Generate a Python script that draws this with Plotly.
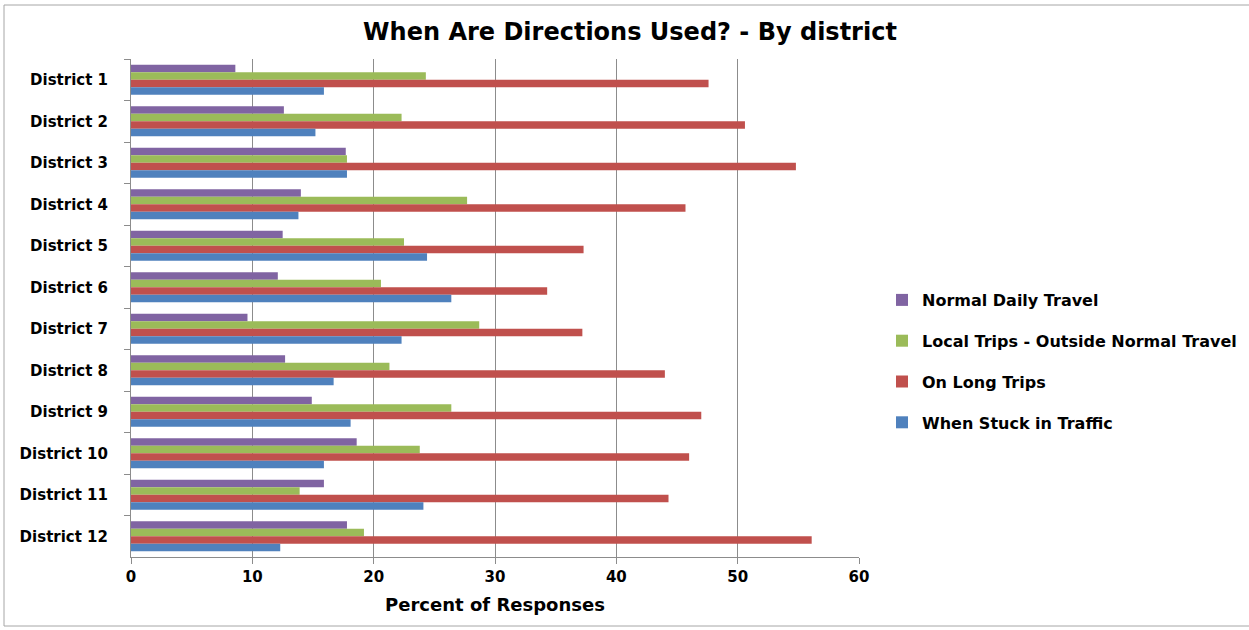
import plotly.graph_objects as go

districts = [f"District {i}" for i in range(1, 13)]

normal_daily = [8.6, 12.6, 17.7, 14.0, 12.5, 12.1, 9.6, 12.7, 14.9, 18.6, 15.9, 17.8]
local_trips = [24.3, 22.3, 17.8, 27.7, 22.5, 20.6, 28.7, 21.3, 26.4, 23.8, 13.9, 19.2]
long_trips = [47.6, 50.6, 54.8, 45.7, 37.3, 34.3, 37.2, 44.0, 47.0, 46.0, 44.3, 56.1]
stuck_traffic = [15.9, 15.2, 17.8, 13.8, 24.4, 26.4, 22.3, 16.7, 18.1, 15.9, 24.1, 12.3]

series = [
    ("Normal Daily Travel", normal_daily, "#8064A2"),
    ("Local Trips - Outside Normal Travel", local_trips, "#9BBB59"),
    ("On Long Trips", long_trips, "#C0504D"),
    ("When Stuck in Traffic", stuck_traffic, "#4F81BD"),
]

FONT = "DejaVu Sans"
W, H = 1249, 630
L, R, T, B = 131, 390, 59, 73
pw, ph = W - L - R, H - T - B

fig = go.Figure()
for i, (name, vals, color) in enumerate(series):
    fig.add_trace(go.Bar(
        y=districts, x=vals, name=name, orientation="h",
        marker=dict(color=color, line=dict(width=0)),
        legendgroup=f"g{i}",
    ))

def px_x(p):
    return (p - L) / pw

def px_y(p):
    return (H - B - p) / ph

fig.update_layout(
    width=W, height=H,
    margin=dict(l=L, r=R, t=T, b=B, autoexpand=False),
    paper_bgcolor="white", plot_bgcolor="white",
    barmode="group", bargap=0.277, bargroupgap=0,
    font=dict(family=FONT, color="#000000"),
    title=dict(
        text="When Are Directions Used? - By district",
        x=px_x(630), xanchor="center", xref="paper", y=1 - 32 / H, yanchor="middle",
        font=dict(family=FONT, size=24, weight="bold", color="#000000"),
    ),
    legend=dict(
        x=px_x(882), xanchor="left", y=px_y(283), yanchor="top",
        traceorder="grouped", tracegroupgap=17,
        font=dict(family=FONT, size=16, weight="bold", color="#000000"),
        bgcolor="rgba(0,0,0,0)",
    ),
    xaxis=dict(
        range=[0, 60], dtick=10, tick0=0,
        showgrid=True, gridcolor="#8c8c8c", gridwidth=1,
        showline=True, linecolor="#8c8c8c", linewidth=1,
        ticks="outside", ticklen=6, tickcolor="#8c8c8c",
        tickfont=dict(family=FONT, size=15, weight="bold", color="#000000"),
        title=dict(text="Percent of Responses", standoff=13,
                   font=dict(family=FONT, size=18, weight="bold", color="#000000")),
        zeroline=False, fixedrange=True,
    ),
    yaxis=dict(
        autorange="reversed", type="category",
        showline=True, linecolor="#8c8c8c", linewidth=1,
        ticks="outside", ticklen=6, tickcolor="#8c8c8c", tickson="boundaries",
        tickfont=dict(family=FONT, size=15, weight="bold", color="#000000"),
        ticklabelstandoff=19,
        showgrid=False, fixedrange=True,
    ),
    shapes=[dict(
        type="rect", xref="paper", yref="paper",
        x0=px_x(4), x1=px_x(1252), y0=px_y(626), y1=px_y(5),
        line=dict(color="#a6a6a6", width=1), fillcolor="rgba(0,0,0,0)",
        layer="below",
    )],
)

fig.write_html("out.html")
